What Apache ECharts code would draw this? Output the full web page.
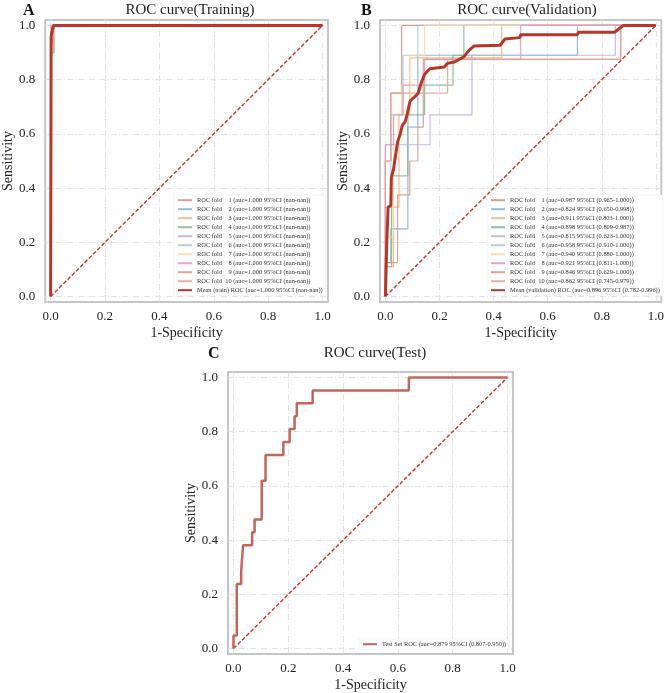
<!DOCTYPE html>
<html>
<head>
<meta charset="utf-8">
<script src="https://cdn.jsdelivr.net/npm/echarts@6/dist/echarts.min.js"></script>
<style>
  html, body { margin: 0; padding: 0; background: #fff; }
  #container { width: 667px; height: 693px; }
</style>
</head>
<body>
<div id="container"></div>
<script>
var dom = document.getElementById("container");
var myChart = echarts.init(dom);

// tick labels shared by every axis
var ticks = [0, 0.2, 0.4, 0.6, 0.8, 1.0];

// fold colours
var foldColors = ['#dc8a80', '#7ab0d6', '#f2b27c', '#76b891', '#b8b0da',
                  '#a9c4d4', '#f6d9a4', '#ee93b8', '#dd9282', '#e4a090'];
var meanColor = '#b5372a';
var testColor = '#c4655a';
var diagColor = '#d0302a';

// panel A (training) - every fold reaches 1.0 almost at once
var aucA = ['1.000', '1.000', '1.000', '1.000', '1.000', '1.000', '1.000', '1.000', '1.000', '1.000'];
var ciA = ['nan-nan', 'nan-nan', 'nan-nan', 'nan-nan', 'nan-nan', 'nan-nan', 'nan-nan', 'nan-nan', 'nan-nan', 'nan-nan'];
var trainFolds = [
  [[0, 0], [0, 0.92], [0.004, 0.92], [0.004, 1], [1, 1]],
  [[0, 0], [0, 0.95], [0.008, 0.95], [0.008, 1], [1, 1]],
  [[0, 0], [0, 1], [1, 1]],
  [[0, 0], [0, 0.9], [0.012, 0.9], [0.012, 1], [1, 1]],
  [[0, 0], [0, 0.96], [0.004, 0.96], [0.004, 1], [1, 1]],
  [[0, 0], [0, 1], [1, 1]],
  [[0, 0], [0, 0.93], [0.008, 0.93], [0.008, 1], [1, 1]],
  [[0, 0], [0, 0.97], [0.004, 0.97], [0.004, 1], [1, 1]],
  [[0, 0], [0, 0.9], [0.012, 0.9], [0.012, 1], [1, 1]],
  [[0, 0], [0, 0.94], [0.008, 0.94], [0.008, 1], [1, 1]]
];
var trainMean = [[0, 0], [0.002, 0.96], [0.008, 0.99], [0.012, 1], [1, 1]];
var meanNameA = 'Mean (train) ROC (auc=1.000 95%CI (nan-nan))';

// panel B (validation)
var aucB = ['0.987', '0.824', '0.911', '0.898', '0.815', '0.958', '0.940', '0.921', '0.846', '0.862'];
var ciB = ['0.965-1.000', '0.650-0.998', '0.803-1.000', '0.809-0.987', '0.623-1.000',
           '0.910-1.000', '0.880-1.000', '0.811-1.000', '0.629-1.000', '0.745-0.979'];
var valFolds = [
  [[0, 0], [0, 0.5], [0.02, 0.5], [0.02, 0.75], [0.06, 0.75], [0.06, 1], [1, 1]],
  [[0, 0], [0, 0.125], [0.02, 0.125], [0.02, 0.25], [0.083, 0.25], [0.083, 0.625], [0.12, 0.625], [0.12, 0.89], [0.71, 0.89], [0.71, 1], [1, 1]],
  [[0, 0], [0, 0.11], [0.03, 0.11], [0.03, 0.33], [0.05, 0.33], [0.05, 0.67], [0.09, 0.67], [0.09, 0.88], [0.43, 0.88], [0.43, 1], [1, 1]],
  [[0, 0], [0, 0.11], [0.023, 0.11], [0.023, 0.445], [0.083, 0.445], [0.083, 0.67], [0.145, 0.67], [0.145, 0.78], [0.25, 0.78], [0.25, 0.89], [0.29, 0.89], [0.29, 1], [1, 1]],
  [[0, 0], [0, 0.56], [0.165, 0.56], [0.165, 0.67], [0.32, 0.67], [0.32, 0.89], [0.85, 0.89], [0.85, 1], [1, 1]],
  [[0, 0], [0, 0.33], [0.02, 0.33], [0.02, 0.67], [0.065, 0.67], [0.065, 0.89], [0.12, 0.89], [0.12, 1], [1, 1]],
  [[0, 0], [0, 0.22], [0.03, 0.22], [0.03, 0.67], [0.06, 0.67], [0.06, 0.78], [0.09, 0.78], [0.09, 0.89], [0.145, 0.89], [0.145, 1], [1, 1]],
  [[0, 0], [0, 0.56], [0.03, 0.56], [0.03, 0.67], [0.065, 0.67], [0.065, 0.78], [0.145, 0.78], [0.145, 0.875], [0.5, 0.875], [0.5, 1], [1, 1]],
  [[0, 0], [0, 0.125], [0.045, 0.125], [0.045, 0.375], [0.09, 0.375], [0.09, 0.5], [0.12, 0.5], [0.12, 0.625], [0.14, 0.625], [0.14, 0.875], [0.87, 0.875], [0.87, 1], [1, 1]],
  [[0, 0], [0, 0.5], [0.02, 0.5], [0.02, 0.75], [0.23, 0.75], [0.23, 0.875], [0.87, 0.875], [0.87, 1], [1, 1]]
];
var valMean = [[0, 0], [0.005, 0.2], [0.01, 0.33], [0.02, 0.335], [0.022, 0.44], [0.03, 0.47], [0.035, 0.47],
  [0.045, 0.57], [0.055, 0.6], [0.062, 0.63], [0.073, 0.645], [0.08, 0.67], [0.091, 0.72], [0.1, 0.73],
  [0.109, 0.737], [0.121, 0.75], [0.133, 0.79], [0.145, 0.82], [0.164, 0.84], [0.218, 0.847], [0.229, 0.86],
  [0.255, 0.865], [0.29, 0.884], [0.309, 0.908], [0.327, 0.924], [0.424, 0.927], [0.442, 0.95], [0.497, 0.955],
  [0.5, 0.966], [0.709, 0.966], [0.715, 0.975], [0.848, 0.975], [0.86, 0.985], [0.88, 1], [1, 1]];
var meanNameB = 'Mean (validation) ROC (auc=0.896 95%CI (0.782-0.996))';

// panel C (test)
var testRoc = [[0, 0], [0, 0.048], [0.012, 0.048], [0.012, 0.238], [0.028, 0.238], [0.028, 0.286],
  [0.035, 0.286], [0.035, 0.381], [0.068, 0.381], [0.068, 0.429], [0.077, 0.429], [0.077, 0.476],
  [0.103, 0.476], [0.103, 0.619], [0.117, 0.619], [0.117, 0.714], [0.182, 0.714], [0.182, 0.762],
  [0.205, 0.762], [0.205, 0.81], [0.223, 0.81], [0.223, 0.857], [0.231, 0.857], [0.231, 0.905],
  [0.289, 0.905], [0.289, 0.952], [0.64, 0.952], [0.64, 1], [1, 1]];
var testName = 'Test Set ROC (auc=0.879 95%CI (0.807-0.950))';

var diagonal = [[0, 0], [1, 1]];

var serif = '"Liberation Serif", "Times New Roman", serif';

function foldName(i, auc, ci) {
  var n = i + 1;
  return 'ROC fold  ' + (n < 10 ? '  ' : '') + n + ' (auc=' + auc + ' 95%CI (' + ci + '))';
}

function makeAxes(idx, dim) {
  return {
    type: 'value',
    gridIndex: idx,
    min: -0.02,
    max: 1.02,
    name: dim === 'x' ? '1-Specificity' : 'Sensitivity',
    nameLocation: 'middle',
    nameGap: dim === 'x' ? 24 : 28,
    nameTextStyle: { fontFamily: serif, fontSize: 14, color: '#222' },
    axisLine: { show: false },
    axisTick: { show: false, customValues: ticks },
    axisLabel: {
      customValues: ticks,
      fontFamily: serif, fontSize: 13, color: '#222',
      margin: dim === 'x' ? 8 : 10,
      formatter: function (v) { return v.toFixed(1); }
    },
    splitLine: {
      show: true,
      lineStyle: { color: '#e4e4e4', width: 1, type: [6, 2, 1, 2] }
    }
  };
}

var grids = [
  { left: 42, top: 20, width: 286, height: 282 },
  { left: 380, top: 20, width: 285, height: 282 },
  { left: 228, top: 372, width: 285, height: 282 }
];
grids.forEach(function (g) {
  g.show = true;
  g.borderColor = '#c6c6c6';
  g.borderWidth = 2;
  g.backgroundColor = '#fff';
});

var series = [];
function addLine(name, data, idx, color, width, opacity, z) {
  series.push({
    name: name, type: 'line', data: data,
    xAxisIndex: idx, yAxisIndex: idx,
    symbol: 'none', clip: false, z: z,
    lineStyle: { color: color, width: width, opacity: opacity },
    itemStyle: { color: color, opacity: opacity }
  });
}

var legendA = [], legendB = [];
// diagonal chance lines
[0, 1, 2].forEach(function (idx) {
  series.push({
    name: 'chance' + idx, type: 'line', data: diagonal,
    xAxisIndex: idx, yAxisIndex: idx, symbol: 'none', z: 2,
    lineStyle: { color: diagColor, width: 1.4, type: [4, 2] }
  });
});
trainFolds.forEach(function (d, i) {
  var n = foldName(i, aucA[i], ciA[i]);
  legendA.push(n);
  addLine(n, d, 0, foldColors[i], 1.2, 0.85, 3);
});
legendA.push(meanNameA);
addLine(meanNameA, trainMean, 0, meanColor, 3, 1, 5);

valFolds.forEach(function (d, i) {
  var n = foldName(i, aucB[i], ciB[i]) + ' ';
  legendB.push(n);
  addLine(n, d, 1, foldColors[i], 1.2, 0.85, 3);
});
legendB.push(meanNameB);
addLine(meanNameB, valMean, 1, meanColor, 3, 1, 5);

addLine(testName, testRoc, 2, testColor, 2.5, 1, 5);

function legendBox(data, left, top) {
  return {
    data: data, orient: 'vertical', left: left, top: top,
    itemWidth: 14, itemHeight: 8, itemGap: 2.6,
    padding: [2, 3],
    backgroundColor: '#fff', borderColor: '#ececec', borderWidth: 0.6,
    selectedMode: false,
    itemStyle: { opacity: 0 },
    textStyle: { fontFamily: serif, fontSize: 6.4, color: '#333' }
  };
}

var option = {
  backgroundColor: '#fff',
  animation: false,
  title: [
    { text: 'ROC curve(Training)', left: 185, top: -2, textAlign: 'center',
      textStyle: { fontFamily: serif, fontSize: 15, fontWeight: 'normal', color: '#222' } },
    { text: 'ROC curve(Validation)', left: 522, top: -2, textAlign: 'center',
      textStyle: { fontFamily: serif, fontSize: 15, fontWeight: 'normal', color: '#222' } },
    { text: 'ROC curve(Test)', left: 370, top: 341, textAlign: 'center',
      textStyle: { fontFamily: serif, fontSize: 15, fontWeight: 'normal', color: '#222' } },
    { text: 'A', left: 18, top: -2, textStyle: { fontFamily: serif, fontSize: 16, fontWeight: 'bold', color: '#111' } },
    { text: 'B', left: 356, top: -2, textStyle: { fontFamily: serif, fontSize: 16, fontWeight: 'bold', color: '#111' } },
    { text: 'C', left: 203, top: 341, textStyle: { fontFamily: serif, fontSize: 16, fontWeight: 'bold', color: '#111' } }
  ],
  legend: [
    legendBox(legendA, 174, 195),
    legendBox(legendB, 487, 195),
    legendBox([testName], 359, 639)
  ],
  grid: grids,
  xAxis: [makeAxes(0, 'x'), makeAxes(1, 'x'), makeAxes(2, 'x')],
  yAxis: [makeAxes(0, 'y'), makeAxes(1, 'y'), makeAxes(2, 'y')],
  series: series
};

if (option && typeof option === 'object') {
  myChart.setOption(option);
}
</script>
</body>
</html>
